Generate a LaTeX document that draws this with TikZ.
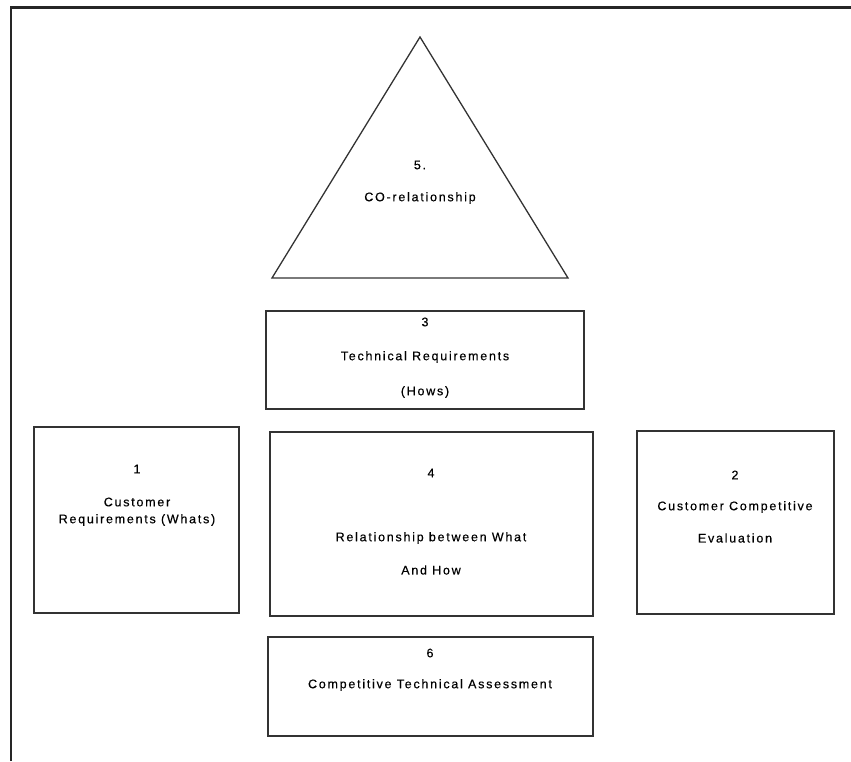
\documentclass[tikz,border=0pt]{standalone}
\usepackage{fontspec}
\setmainfont[LetterSpace=14,FakeBold=0.4]{Liberation Sans}
\begin{document}
\begin{tikzpicture}[x=1pt,y=-1pt,
  box/.style={draw=black!80,line width=1.3pt,inner sep=0pt,outer sep=0pt,shape=rectangle},
  lbl/.style={font=\fontsize{12.5}{14}\selectfont,text=black,inner sep=0pt,anchor=center}]
\useasboundingbox (0,0) rectangle (851,761);
% frame
\coordinate (f1) at (11,761);
\coordinate (f2) at (11,7.3);
\coordinate (f3) at (851,7.3);
\draw[line width=2.6pt,black!85] (f1) -- (f2) -- (f3);
% triangle
\coordinate (tA) at (420,37);
\coordinate (tB) at (272,278);
\coordinate (tC) at (568,278);
\draw[draw=black!80,line width=1.3pt,line join=miter] (tA) -- (tB) -- (tC) -- cycle;
\node[lbl] (t5) at (420,165) {5.};
\node[lbl] (tco) at (420,198) {CO-relationship};
% box 3
\node[box,minimum width=318pt,minimum height=98pt] (b3) at (425,360) {};
\node[lbl] (b3a) at (425,322) {3};
\node[lbl] (b3b) at (425,357) {Technical Requirements};
\node[lbl] (b3c) at (425,392) {(Hows)};
% box 1
\node[box,minimum width=205pt,minimum height=186pt] (b1) at (136.5,520) {};
\node[lbl] (b1a) at (137,469) {1};
\node[lbl] (b1b) at (137,502) {Customer};
\node[lbl] (b1c) at (137,520) {Requirements (Whats)};
% box 4
\node[box,minimum width=323pt,minimum height=184pt] (b4) at (431.5,524) {};
\node[lbl] (b4a) at (431,473) {4};
\node[lbl] (b4b) at (431,538) {Relationship between What};
\node[lbl] (b4c) at (431,570) {And How};
% box 2
\node[box,minimum width=197pt,minimum height=183pt] (b2) at (735.5,522.5) {};
\node[lbl] (b2a) at (735,475) {2};
\node[lbl] (b2b) at (735,507) {Customer Competitive};
\node[lbl] (b2c) at (735,538) {Evaluation};
% box 6
\node[box,minimum width=325pt,minimum height=99pt] (b6) at (430.5,686.5) {};
\node[lbl] (b6a) at (430,653) {6};
\node[lbl] (b6b) at (430,685) {Competitive Technical Assessment};
\end{tikzpicture}
\end{document}
